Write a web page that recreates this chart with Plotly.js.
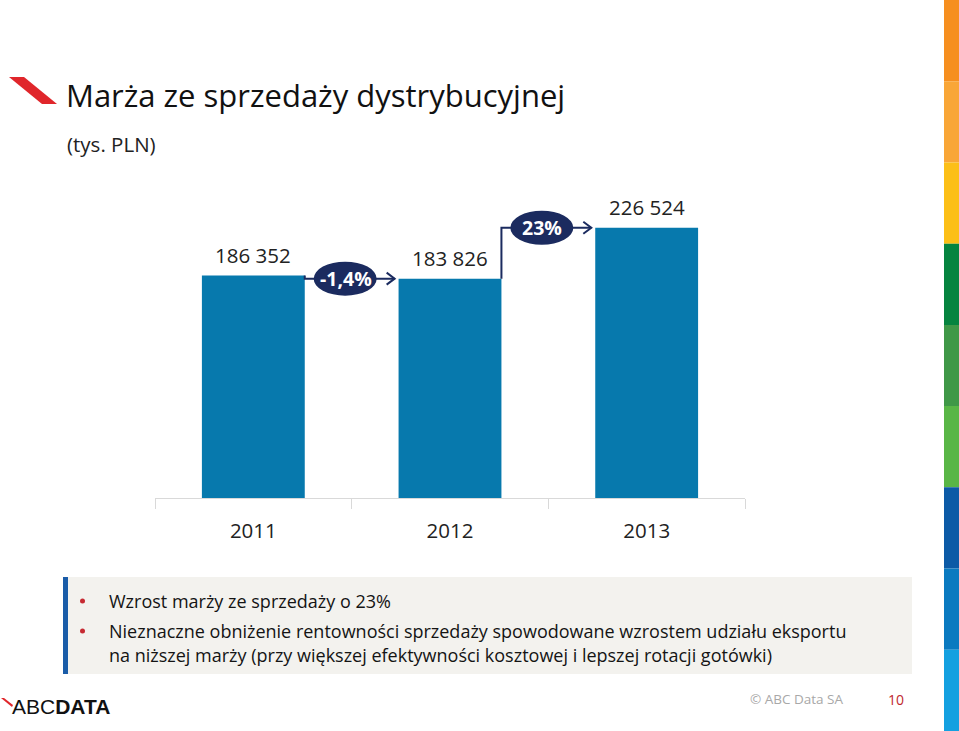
<!DOCTYPE html>
<html>
<head>
<meta charset="utf-8">
<script src="https://cdn.plot.ly/plotly-3.0.1.min.js"></script>
<style>
  html, body { margin: 0; padding: 0; background: #ffffff; }
  #chart { width: 959px; height: 731px; }
</style>
</head>
<body>
<div id="chart"></div>
<script>
// ---- data ----
const categories = ['2011', '2012', '2013'];
const values = [186352, 183826, 226524];
const changeLabels = ['-1,4%', '23%'];
const titleText = 'Marża ze sprzedaży dystrybucyjnej';
const unitText = '(tys. PLN)';
const bulletTexts = [
  'Wzrost marży ze sprzedaży o 23%',
  'Nieznaczne obniżenie rentowności sprzedaży spowodowane wzrostem udziału eksportu',
  'na niższej marży (przy większej efektywności kosztowej i lepszej rotacji gotówki)'
];
const footerText = '© ABC Data SA';
const pageNumber = '10';
const stripColors = ['#f68f1f', '#f9a637', '#fcbf17', '#05843f', '#3f9847', '#59b646', '#0c5aa6', '#0b7ac0', '#14a0e0'];

// ---- layout geometry ----
const W = 959, H = 731;
const M = { l: 155, r: 214, t: 150, b: 233 };
const PW = W - M.l - M.r, PH = H - M.t - M.b;
const px = x => (x - M.l) / PW;          // pixel -> paper x
const py = y => (H - M.b - y) / PH;      // pixel -> paper y

const FONT = '"Open Sans", "Noto Sans", sans-serif';
const bargap = 0.477;
const hw = (1 - bargap) / 2;
const navy = '#1b2b5f';
const fmt = v => String(v).replace(/\B(?=(\d{3})+(?!\d))/g, ' ');

const trace = {
  type: 'bar',
  x: categories,
  y: values,
  marker: { color: '#0779ad', line: { width: 0 } },
  hoverinfo: 'skip'
};

const shapes = [];
const annotations = [];

// value labels
categories.forEach((c, i) => {
  annotations.push({
    x: i, y: values[i], xref: 'x', yref: 'y',
    text: fmt(values[i]), showarrow: false,
    yanchor: 'bottom', yshift: 5,
    font: { family: FONT, size: 20.5, color: '#222222' }
  });
});

// connectors with arrows and change badges
for (let i = 0; i < values.length - 1; i++) {
  const xs = i + hw;
  const xe = i + 1 - hw - 0.02;
  shapes.push({
    type: 'path', xref: 'x', yref: 'y',
    path: `M ${xs},${values[i]} L ${xs},${values[i + 1]} L ${xe},${values[i + 1]}`,
    line: { color: navy, width: 2 }
  });
  shapes.push({
    type: 'path', xref: 'x', yref: 'y',
    xsizemode: 'pixel', ysizemode: 'pixel',
    xanchor: xe, yanchor: values[i + 1],
    path: 'M -8,-6 L 0,0 L -8,6',
    line: { color: navy, width: 2 }
  });
  shapes.push({
    type: 'circle', xref: 'x', yref: 'y',
    xsizemode: 'pixel', ysizemode: 'pixel',
    xanchor: i + 0.5, yanchor: values[i + 1],
    x0: -38, x1: 25, y0: -17, y1: 17,
    fillcolor: navy, line: { width: 0 }
  });
  annotations.push({
    x: i + 0.5, y: values[i + 1], xref: 'x', yref: 'y',
    text: '<b>' + changeLabels[i] + '</b>', showarrow: false,
    xshift: -6,
    font: { family: FONT, size: 19.5, color: '#ffffff' }
  });
}

// top-left red slash logo
shapes.push({
  type: 'path', xref: 'paper', yref: 'paper',
  path: `M ${px(9)},${py(77)} L ${px(24)},${py(77)} L ${px(57)},${py(104)} L ${px(42)},${py(104)} Z`,
  fillcolor: '#e0262b', line: { width: 0 }
});

// subtitle
annotations.push({
  xref: 'paper', yref: 'paper', x: px(65), y: py(144),
  xanchor: 'left', yanchor: 'middle', showarrow: false,
  text: unitText, font: { family: FONT, size: 20.5, color: '#222222' }
});

// right colour strip
const segH = H / stripColors.length;
stripColors.forEach((col, k) => {
  shapes.push({
    type: 'rect', xref: 'paper', yref: 'paper',
    x0: px(944), x1: px(959), y0: py(k * segH), y1: py((k + 1) * segH),
    fillcolor: col, line: { width: 0 }
  });
});

// text box
shapes.push({
  type: 'rect', xref: 'paper', yref: 'paper',
  x0: px(68), x1: px(912), y0: py(577), y1: py(674),
  fillcolor: '#f3f2ee', line: { width: 0 }, layer: 'below'
});
shapes.push({
  type: 'rect', xref: 'paper', yref: 'paper',
  x0: px(63), x1: px(68), y0: py(577), y1: py(674),
  fillcolor: '#1a5ca8', line: { width: 0 }
});
[601, 631].forEach(yy => {
  shapes.push({
    type: 'circle', xref: 'paper', yref: 'paper',
    x0: px(80), x1: px(85), y0: py(yy + 2.5), y1: py(yy - 2.5),
    fillcolor: '#c62a32', line: { width: 0 }
  });
});
[601, 631, 655].forEach((yy, k) => {
  annotations.push({
    xref: 'paper', yref: 'paper', x: px(107), y: py(yy),
    xanchor: 'left', yanchor: 'middle', showarrow: false,
    text: bulletTexts[k], font: { family: FONT, size: 18, color: '#141414' }
  });
});

// footer
annotations.push({
  xref: 'paper', yref: 'paper', x: px(748), y: py(699),
  xanchor: 'left', yanchor: 'middle', showarrow: false,
  text: footerText, font: { family: FONT, size: 13.5, color: '#a8a8a8' }
});
annotations.push({
  xref: 'paper', yref: 'paper', x: px(896), y: py(699),
  xanchor: 'center', yanchor: 'middle', showarrow: false,
  text: pageNumber, font: { family: FONT, size: 14, color: '#c0282d' }
});

// ABCDATA logo
shapes.push({
  type: 'path', xref: 'paper', yref: 'paper',
  path: `M ${px(1)},${py(698)} L ${px(4)},${py(698)} L ${px(13)},${py(705)} L ${px(12)},${py(707)} Z`,
  fillcolor: '#e0262b', line: { width: 0 }
});
annotations.push({
  xref: 'paper', yref: 'paper', x: px(10), y: py(706),
  xanchor: 'left', yanchor: 'middle', showarrow: false,
  text: 'ABC<b>DATA</b>', font: { family: '"Liberation Sans", Arial, sans-serif', size: 21, color: '#111111' }
});

const layout = {
  width: W, height: H,
  margin: M,
  paper_bgcolor: '#ffffff',
  plot_bgcolor: '#ffffff',
  showlegend: false,
  bargap: bargap,
  title: {
    text: titleText,
    xref: 'container', yref: 'container',
    x: 66 / W, xanchor: 'left',
    y: 1 - 96 / H, yanchor: 'middle',
    font: { family: FONT, size: 31, color: '#111111' }
  },
  xaxis: {
    type: 'category',
    range: [-0.5, 2.5],
    showline: true, linecolor: '#d9d9d9', linewidth: 1,
    ticks: 'outside', tickson: 'boundaries', ticklen: 10, tickcolor: '#d9d9d9', tickwidth: 1,
    ticklabelstandoff: 14,
    tickfont: { family: FONT, size: 20.5, color: '#222222' },
    showgrid: false, zeroline: false, fixedrange: true
  },
  yaxis: {
    range: [0, PH * 838],
    visible: false, showgrid: false, zeroline: false, fixedrange: true
  },
  shapes: shapes,
  annotations: annotations
};

Plotly.newPlot('chart', [trace], layout, { staticPlot: true, displayModeBar: false });
</script>
</body>
</html>
